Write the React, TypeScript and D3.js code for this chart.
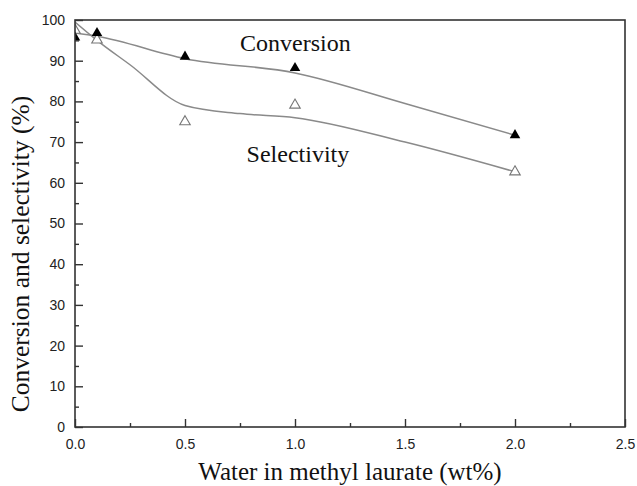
import React, { useRef, useEffect } from "react";
import * as d3 from "d3";

// measured points
const waterX = [0, 0.1, 0.5, 1.0, 2.0];
const conversion = [95.7, 96.8, 91, 88.2, 71.7];
const selectivity = [97.5, 95.1, 75, 79.1, 62.7];

// fitted trend curves
const convFitX = [0, 0.1, 0.5, 1.0, 1.5, 2.0];
const convFitY = [96.8, 96, 90.5, 87, 79.5, 71.7];
const selFitX = [0, 0.1, 0.25, 0.5, 0.75, 1.0, 1.5, 2.0];
const selFitY = [99.5, 95, 89, 79, 77, 76, 70, 62.7];

const xMajor = [0, 0.5, 1.0, 1.5, 2.0, 2.5];
const xMinor = [0.25, 0.75, 1.25, 1.75, 2.25];
const yMajor = [0, 10, 20, 30, 40, 50, 60, 70, 80, 90, 100];
const yMinor = [5, 15, 25, 35, 45, 55, 65, 75, 85, 95];

const W = 637;
const H = 486;
const left = 75;
const right = 625;
const top = 20;
const bottom = 427;

const App = () => {
  const svgRef = useRef<SVGSVGElement>(null);

  useEffect(() => {
    const svg = d3.select(svgRef.current);
    svg.selectAll("*").remove();

    const x = d3.scaleLinear().domain([0, 2.5]).range([left, right]);
    const y = d3.scaleLinear().domain([0, 100]).range([bottom, top]);

    svg
      .append("defs")
      .append("clipPath")
      .attr("id", "plotClip")
      .append("rect")
      .attr("x", left)
      .attr("y", top)
      .attr("width", right - left)
      .attr("height", bottom - top);

    const plot = svg.append("g").attr("clip-path", "url(#plotClip)");

    const fitLine = d3
      .line<[number, number]>()
      .x((d) => x(d[0]))
      .y((d) => y(d[1]))
      .curve(d3.curveMonotoneX);

    const convFit = convFitX.map((v, i) => [v, convFitY[i]] as [number, number]);
    const selFit = selFitX.map((v, i) => [v, selFitY[i]] as [number, number]);

    plot
      .selectAll(".fit")
      .data([convFit, selFit])
      .join("path")
      .attr("class", "fit")
      .attr("d", fitLine)
      .attr("fill", "none")
      .attr("stroke", "#8a8a8a")
      .attr("stroke-width", 1.5);

    const tri = d3.symbol(d3.symbolTriangle, 48);

    plot
      .selectAll(".sel")
      .data(waterX)
      .join("path")
      .attr("class", "sel")
      .attr("d", tri)
      .attr("transform", (d, i) => `translate(${x(d)},${y(selectivity[i])})`)
      .attr("fill", "white")
      .attr("stroke", "#777")
      .attr("stroke-width", 1.1);

    plot
      .selectAll(".conv")
      .data(waterX)
      .join("path")
      .attr("class", "conv")
      .attr("d", tri)
      .attr("transform", (d, i) => `translate(${x(d)},${y(conversion[i])})`)
      .attr("fill", "black");

    // frame
    svg
      .append("rect")
      .attr("x", left)
      .attr("y", top)
      .attr("width", right - left)
      .attr("height", bottom - top)
      .attr("fill", "none")
      .attr("stroke", "#333")
      .attr("stroke-width", 1.6);

    // bottom axis, ticks pointing inward
    const xAxis = d3
      .axisBottom(x)
      .tickValues(xMajor)
      .tickSizeInner(-8)
      .tickSizeOuter(0)
      .tickPadding(12)
      .tickFormat(d3.format(".1f"));
    const gx = svg.append("g").attr("transform", `translate(0,${bottom})`).call(xAxis);
    gx.select(".domain").remove();

    const xAxisMinor = d3
      .axisBottom(x)
      .tickValues(xMinor)
      .tickSizeInner(-4)
      .tickSizeOuter(0)
      .tickFormat(() => "");
    const gxm = svg.append("g").attr("transform", `translate(0,${bottom})`).call(xAxisMinor);
    gxm.select(".domain").remove();

    // left axis
    const yAxis = d3
      .axisLeft(y)
      .tickValues(yMajor)
      .tickSizeInner(-8)
      .tickSizeOuter(0)
      .tickPadding(10)
      .tickFormat(d3.format("d"));
    const gy = svg.append("g").attr("transform", `translate(${left},0)`).call(yAxis);
    gy.select(".domain").remove();

    const yAxisMinor = d3
      .axisLeft(y)
      .tickValues(yMinor)
      .tickSizeInner(-4)
      .tickSizeOuter(0)
      .tickFormat(() => "");
    const gym = svg.append("g").attr("transform", `translate(${left},0)`).call(yAxisMinor);
    gym.select(".domain").remove();

    svg
      .selectAll(".tick line")
      .attr("stroke", "#333")
      .attr("stroke-width", 1.4);
    svg
      .selectAll(".tick text")
      .attr("font-family", "'Liberation Sans', Arial, sans-serif")
      .attr("font-size", 14)
      .attr("fill", "#222");

    // series labels
    const serif = "'Liberation Serif', 'Times New Roman', serif";
    svg
      .append("text")
      .attr("x", x(0.75))
      .attr("y", y(92.5))
      .attr("font-family", serif)
      .attr("font-size", 24)
      .attr("fill", "#111")
      .text("Conversion");
    svg
      .append("text")
      .attr("x", x(0.78))
      .attr("y", y(65.2))
      .attr("font-family", serif)
      .attr("font-size", 24)
      .attr("fill", "#111")
      .text("Selectivity");

    // axis titles
    svg
      .append("text")
      .attr("x", 350)
      .attr("y", 480)
      .attr("text-anchor", "middle")
      .attr("font-family", serif)
      .attr("font-size", 25)
      .attr("fill", "#111")
      .text("Water in methyl laurate (wt%)");
    svg
      .append("text")
      .attr("transform", `translate(29,254) rotate(-90)`)
      .attr("text-anchor", "middle")
      .attr("font-family", serif)
      .attr("font-size", 25.5)
      .attr("fill", "#111")
      .text("Conversion and selectivity (%)");
  }, []);

  return (
    <svg
      ref={svgRef}
      width={W}
      height={H}
      style={{ position: "absolute", left: 0, top: 0, background: "white" }}
    />
  );
};

export default App;
